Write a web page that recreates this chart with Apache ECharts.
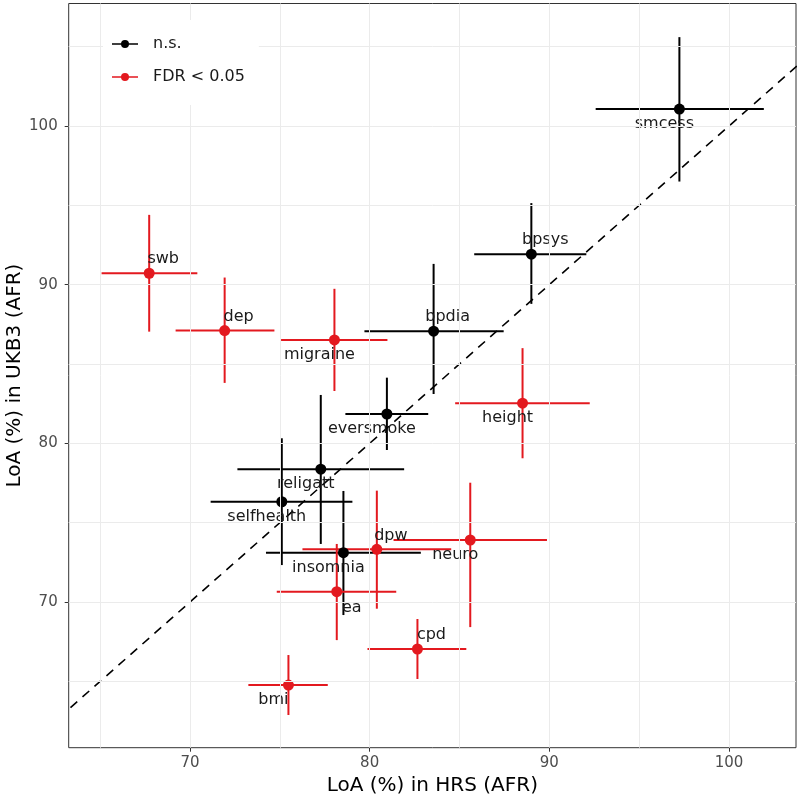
<!DOCTYPE html>
<html>
<head>
<meta charset="utf-8">
<script src="https://cdn.jsdelivr.net/npm/echarts@6/dist/echarts.min.js"></script>
<style>
html, body { margin: 0; padding: 0; background: #fff; }
#chart { width: 800px; height: 797px; }
</style>
</head>
<body>
<div id="chart"></div>
<script>
// trait estimates, LoA (%) with intervals
const traits = ["smcess", "swb", "dep", "migraine", "bpdia", "bpsys", "eversmoke", "height",
    "religatt", "selfhealth", "insomnia", "dpw", "neuro", "ea", "bmi", "cpd"];
const hrs    = [97.24, 67.73, 71.93, 78.04, 83.56, 89.00, 80.96, 88.51, 77.28, 75.11, 78.54, 80.40, 85.60, 78.17, 75.48, 82.66];
const hrs_lo = [92.58, 65.08, 69.20, 75.07, 79.71, 85.82, 78.65, 84.76, 72.64, 71.15, 74.23, 76.26, 81.33, 74.83, 73.25, 79.88];
const hrs_hi = [101.94, 70.41, 74.70, 80.99, 87.46, 92.06, 83.26, 92.25, 81.92, 79.04, 82.85, 84.54, 89.87, 81.48, 77.67, 85.38];
const ukb    = [101.07, 90.72, 87.11, 86.52, 87.07, 91.92, 81.85, 82.53, 78.37, 76.32, 73.11, 73.32, 73.91, 70.65, 64.77, 67.04];
const ukb_lo = [96.50, 87.04, 83.81, 83.30, 83.11, 88.79, 79.58, 79.06, 73.66, 72.33, 69.18, 69.58, 68.42, 67.60, 62.88, 65.15];
const ukb_hi = [105.60, 94.40, 90.45, 89.74, 91.31, 95.14, 84.14, 86.00, 83.05, 80.32, 77.00, 77.02, 77.52, 73.66, 66.66, 68.93];
const fdr    = [0, 1, 1, 1, 0, 0, 0, 1, 0, 0, 0, 1, 1, 1, 1, 1];

const x_ticks = [70, 80, 90, 100];
const y_ticks = [70, 80, 90, 100];
const x_grid = [65, 70, 75, 80, 85, 90, 95, 100];
const y_grid = [65, 70, 75, 80, 85, 90, 95, 100, 105];
const diag = [[50, 50], [120, 120]];

// where each text label sits around its point
const label_side = ["bl", "tr", "tr", "bl", "tr", "tr", "bl", "bl", "bl", "bl", "bl", "tr", "bl", "br", "bl", "tr"];
const side_offset = { tr: [14, -14], tl: [-14, -14], br: [15, 16], bl: [-15, 15] };

const font = "DejaVu Sans";
const col_ns = "#000000";
const col_fdr = "#E3191F";
const legend_icon = "path://M0,4.2L26,4.2L26,5.8L0,5.8Z M17,5A4,4 0 1 1 9,5A4,4 0 1 1 17,5Z";

function points(flag) {
    let out = [];
    traits.forEach((t, i) => {
        if (fdr[i] !== flag) return;
        out.push({
            name: t,
            value: [hrs[i], ukb[i]],
            label: { offset: side_offset[label_side[i]] }
        });
    });
    return out;
}

function bars() {
    return traits.map((t, i) => [hrs[i], hrs_lo[i], hrs_hi[i], ukb[i], ukb_lo[i], ukb_hi[i], fdr[i]]);
}

function render_bar(params, api) {
    let l = api.coord([api.value(1), api.value(3)]);
    let r = api.coord([api.value(2), api.value(3)]);
    let t = api.coord([api.value(0), api.value(5)]);
    let b = api.coord([api.value(0), api.value(4)]);
    let style = { stroke: api.value(6) ? col_fdr : col_ns, lineWidth: 2 };
    return {
        type: "group",
        children: [
            { type: "line", shape: { x1: l[0], y1: l[1], x2: r[0], y2: r[1] }, style: style },
            { type: "line", shape: { x1: t[0], y1: t[1], x2: b[0], y2: b[1] }, style: style }
        ]
    };
}

let point_label = {
    show: true,
    formatter: "{b}",
    position: "inside",
    color: "#1A1A1A",
    fontSize: 16,
    fontFamily: font
};

let grid_lines = x_grid.map(v => ({ xAxis: v })).concat(y_grid.map(v => ({ yAxis: v })));

let option = {
    animation: false,
    textStyle: { fontFamily: font },
    grid: {
        left: 68.7, right: 4, top: 3.5, bottom: 49.3,
        outerBoundsMode: "none", containLabel: false,
        show: true, backgroundColor: "#fff", borderColor: "#333", borderWidth: 1
    },
    legend: {
        data: [
            { name: "n.s.", icon: legend_icon },
            { name: "FDR < 0.05", icon: legend_icon }
        ],
        z: 20,
        orient: "vertical",
        left: 103, top: 20,
        padding: [15, 14, 19, 9],
        backgroundColor: "#fff",
        itemWidth: 26, itemHeight: 8, itemGap: 15,
        selectedMode: false,
        textStyle: { fontSize: 16, lineHeight: 18, color: "#1A1A1A", fontFamily: font, padding: [0, 0, 0, 10] }
    },
    xAxis: {
        type: "value", min: 63.25, max: 103.73,
        name: "LoA (%) in HRS (AFR)", nameLocation: "middle", nameGap: 26,
        nameTextStyle: { fontSize: 20, color: "#000", fontFamily: font },
        axisLine: { show: false },
        axisTick: { show: true, customValues: x_ticks, length: 4, lineStyle: { color: "#333" } },
        axisLabel: { customValues: x_ticks, fontSize: 15, color: "#4D4D4D", margin: 8, fontFamily: font },
        splitLine: { show: false }
    },
    yAxis: {
        type: "value", min: 60.82, max: 107.72,
        name: "LoA (%) in UKB3 (AFR)", nameLocation: "middle", nameGap: 44,
        nameMoveOverlap: false,
        nameTextStyle: { fontSize: 20, color: "#000", fontFamily: font },
        axisLine: { show: false },
        axisTick: { show: true, customValues: y_ticks, length: 4, lineStyle: { color: "#333" } },
        axisLabel: { customValues: y_ticks, fontSize: 15, color: "#4D4D4D", margin: 11, fontFamily: font },
        splitLine: { show: false }
    },
    series: [
        {
            type: "line", data: [], z: 1, silent: true,
            markLine: {
                silent: true, symbol: ["none", "none"], label: { show: false },
                lineStyle: { color: "#EBEBEB", width: 1, type: "solid" },
                data: grid_lines
            }
        },
        {
            type: "line", data: diag, z: 2, silent: true, clip: true,
            symbol: "none",
            lineStyle: { color: "#000", width: 1.6, type: [9, 7] }
        },
        {
            type: "custom", data: bars(), z: 3, silent: true,
            encode: { x: [0, 1, 2], y: [3, 4, 5] },
            renderItem: render_bar
        },
        {
            name: "n.s.", type: "scatter", data: points(0), z: 4,
            symbolSize: 11, itemStyle: { color: col_ns, opacity: 1 },
            label: point_label
        },
        {
            name: "FDR < 0.05", type: "scatter", data: points(1), z: 4,
            symbolSize: 11, itemStyle: { color: col_fdr, opacity: 1 },
            label: point_label
        }
    ]
};

let chart = echarts.init(document.getElementById("chart"));
chart.setOption(option);
</script>
</body>
</html>
